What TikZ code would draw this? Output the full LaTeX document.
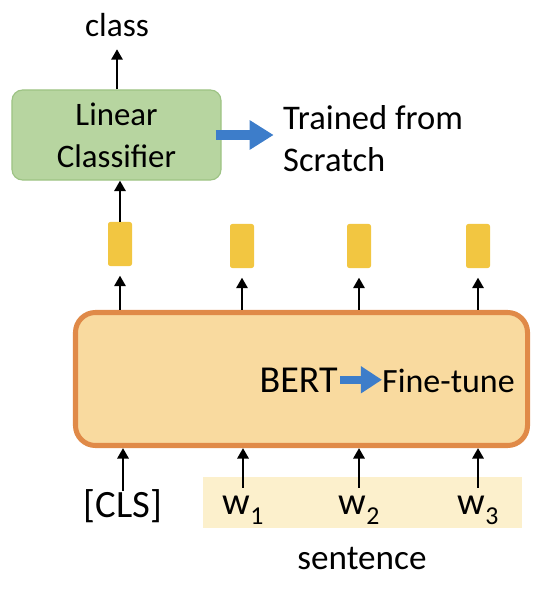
\documentclass[tikz,border=0pt]{standalone}
\usepackage{fontspec}
\setmainfont{Carlito}
\usepackage{xcolor}
\usepackage{tikz}
\usetikzlibrary{arrows.meta,positioning}

\definecolor{clsgreen}{HTML}{B7D5A0}
\definecolor{clsedge}{HTML}{9DC384}
\definecolor{bertfill}{HTML}{F9DA9F}
\definecolor{bertedge}{HTML}{E08A48}
\definecolor{vecyellow}{HTML}{F2C641}
\definecolor{sentfill}{HTML}{FCF0CC}
\definecolor{pptblue}{HTML}{3D7DCA}

\newcommand{\wtok}[1]{w\raisebox{-0.55ex}{\fontsize{22}{22}\selectfont #1}}

\begin{document}
\begin{tikzpicture}[
  x=0.03cm,y=-0.03cm,
  every node/.style={align=center,inner sep=0pt},
  classifier/.style={draw=clsedge,line width=1pt,fill=clsgreen,rounded corners=9pt,
    minimum width=6.27cm,minimum height=2.7cm,font=\fontsize{28}{36}\selectfont},
  encoder/.style={draw=bertedge,line width=4.3pt,fill=bertfill,rounded corners=17pt,
    minimum width=13.56cm,minimum height=3.99cm},
  vec/.style={fill=vecyellow,rounded corners=2pt,minimum width=0.72cm,minimum height=1.32cm},
  token/.style={anchor=base,font=\fontsize{33}{33}\selectfont,text height=20pt,inner sep=2pt},
  arrow/.style={-{Triangle[length=9pt,width=9.5pt]},line width=2.5pt,black},
  bigarrow/.style={-{Triangle[length=20.5pt,width=24pt]},line width=8.5pt,pptblue},
  smallarrow/.style={-{Triangle[length=18pt,width=22pt]},line width=6.5pt,pptblue}
]
\useasboundingbox (0,0) rectangle (544,598);

% sentence highlight
\node[fill=sentfill,minimum width=9.57cm,minimum height=1.53cm] (sent) at (362.5,502.5) {};

\node[classifier] (lin) at (116.5,135) {Linear\\Classifier};
\node[anchor=base,font=\fontsize{28.5}{28.5}\selectfont,inner sep=2pt] (class) at (117,37) {class};
\node[anchor=west,align=left,font=\fontsize{29.5}{36}\selectfont] (trained) at (283,139) {Trained from\\Scratch};

\node[encoder] (bert) at (301.5,379) {};
\node[anchor=base east,font=\fontsize{32.5}{32.5}\selectfont] (bertlbl) at (338,392) {BERT};
\node[anchor=base west,font=\fontsize{29}{29}\selectfont] (tune) at (382,392) {Fine-tune};

\node[vec] (v0) at (120,244) {};
\node[vec] (v1) at (242,246) {};
\node[vec] (v2) at (359,246) {};
\node[vec] (v3) at (478,246) {};

\node[token] (cls) at (123,517) {[CLS]};
\node[token] (w1) at (243,514) {\wtok{1}};
\node[token] (w2) at (359,514) {\wtok{2}};
\node[token] (w3) at (478,514) {\wtok{3}};
\node[anchor=base,font=\fontsize{30}{30}\selectfont] (sentlbl) at (362,569) {sentence};

% inputs into BERT
\draw[arrow] (cls.north) -- (cls.north |- bert.south);
\draw[arrow] (w1.north) -- (w1.north |- bert.south);
\draw[arrow] (w2.north) -- (w2.north |- bert.south);
\draw[arrow] (w3.north) -- (w3.north |- bert.south);

% outputs of BERT
\draw[arrow,shorten >=8pt] (v0 |- bert.north) -- (v0.south);
\draw[arrow,shorten >=8pt] (v1 |- bert.north) -- (v1.south);
\draw[arrow,shorten >=8pt] (v2 |- bert.north) -- (v2.south);
\draw[arrow,shorten >=8pt] (v3 |- bert.north) -- (v3.south);

\draw[arrow] (v0.north) -- (v0.north |- lin.south);
\draw[arrow,shorten >=8pt] (lin.north -| class) -- (class.south);

\draw[bigarrow,shorten <=-5pt,shorten >=8pt] (lin.east) -- (lin.east -| trained.west);
\draw[smallarrow,shorten <=2pt] (bertlbl.east) -- (bertlbl.east -| tune.west);
\end{tikzpicture}
\end{document}
